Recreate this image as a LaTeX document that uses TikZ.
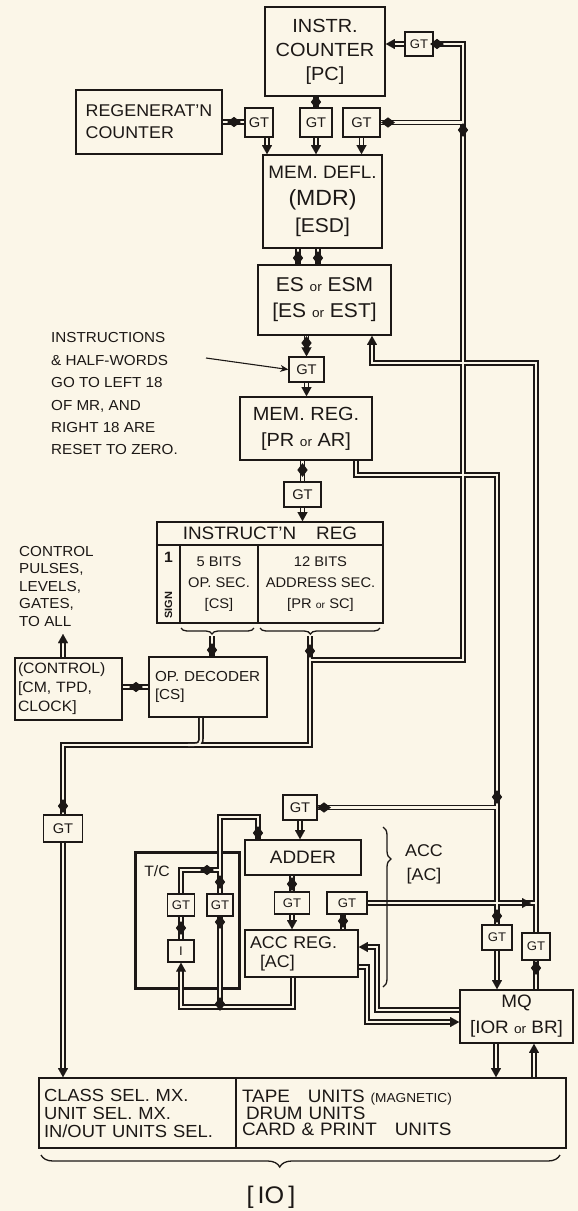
\documentclass[tikz,border=0pt]{standalone}
\usepackage{fontspec}
\setmainfont{Liberation Sans}[FakeStretch=1.05]
\usetikzlibrary{arrows.meta,shapes.geometric,decorations.pathreplacing,calc}
\pgfdeclarelayer{back}
\pgfdeclarelayer{buslayer}
\pgfsetlayers{back,buslayer,main}
\definecolor{paper}{RGB}{251,246,232}
\definecolor{ink}{RGB}{28,24,22}
\newcommand\fs[2]{\fontsize{#1}{#2}\selectfont}
\newcommand\orw{{\fs{13}{13}or}}
\newcommand\tipD[1]{\draw[tipst] ($(#1)+(0,-9)$) -- (#1);}
\newcommand\tipU[1]{\draw[tipst] ($(#1)+(0,9)$) -- (#1);}
\newcommand\tipL[1]{\draw[tipst] ($(#1)+(9,0)$) -- (#1);}
\newcommand\tipR[1]{\draw[tipst] ($(#1)+(-9,0)$) -- (#1);}
\newcommand\BusPaths{%
\draw[shorten >=5pt] (gtpc.west) -- (gtpc.west -| pc.east);
\draw (gtpc.east) -- (gtpc.east -| P) -- (P |- addrj) -- (addrj);
\draw (gt3.east) -- (gt3.east -| P);
\draw (regen.east) -- (regen.east -| gt1.west);
\draw (pc.south -| gt2) -- (gt2.north);
\draw[shorten >=5pt] (gt1.south -| cx267) -- (mdr.north -| cx267);
\draw[shorten >=5pt] (gt2.south) -- (gt2.south |- mdr.north);
\draw[shorten >=5pt] (gt3.south) -- (gt3.south |- mdr.north);
\draw (mdr.south -| cx298) -- (es.north -| cx298);
\draw (mdr.south -| cx318) -- (es.north -| cx318);
\draw[shorten >=5pt] (es.south -| gtes) -- (gtes.north);
\draw[shorten >=5pt] (gtes.south) -- (gtes.south |- mr.north);
\draw[shorten <=5pt] (es.south -| esj) -- (esj) -- (esj -| E) -- (E |- gtq2.north);
\draw (mr.south -| mrj) -- (mrj) -- (mrj -| M) -- (M |- gtq1.north);
\draw (mr.south -| gtmr) -- (gtmr.north);
\draw[shorten >=5pt] (gtmr.south) -- (gtmr.south |- irh.north);
\draw (opb) -- (opb |- opdec.north);
\draw (adb) -- (lowj) -- (lowj -| gtl) -- (gtl.north);
\draw (opdec.south -| cx201) -- (odj) .. controls (odc) .. (odk);
\draw[shorten >=5pt] (gtl.south) -- (gtl.south |- iol.north);
\draw[shorten >=5pt] (ctrl.north -| gtl) -- (ctrlup);
\draw (opdec.west) -- (opdec.west -| ctrl.east);
\draw (gtadd.east) -- (gtadd.east -| M);
\draw[shorten >=5pt] (gtadd.south) -- (gtadd.south |- adder.north);
\draw (gtc2.north) -- (tcj) -- (tck) -- (tck |- adder.north);
\draw (gtc1.north) -- (c1j) -- (c1k);
\draw (gta1.north) -- (gta1.north |- adder.south);
\draw[shorten >=5pt] (gta1.south) -- (gta1.south |- accreg.north);
\draw (gta2.south -| cx343) -- (accreg.north -| cx343);
\draw (gta2.east) -- (gta2.east -| E);
\draw (ibox.north) -- (gtc1.south);
\draw[shorten >=5pt] (accreg.south -| lp1) -- (lp1) -- (lp2) -- (ibox.south);
\draw (gtc2.south) -- (gtc2.south |- lp1);
\draw[shorten >=5pt] (q1 -| mq.west) -- (q1) -- (q2) -- (q2 -| accreg.east);
\draw[shorten >=5pt] (q3 -| accreg.east) -- (q3) -- (q4) -- (q4 -| mq.west);
\draw[shorten >=5pt] (gtq1.south) -- (gtq1.south |- mq.north);
\draw (gtq2.south) -- (gtq2.south |- mq.north);
\draw[shorten >=5pt] (mq.south -| cx496) -- (ior.north -| cx496);
\draw[shorten >=5pt] (ior.north -| cx534) -- (mq.south -| cx534);
}
\begin{document}
\begin{tikzpicture}[x=1pt,y=-1pt,
  box/.style={draw=ink, line width=1.7pt, fill=paper, inner sep=1pt, align=center, text=ink},
  gt/.style={box, line width=1.4pt, font=\fs{14}{14}},
  gts/.style={box, line width=1.4pt, font=\fs{12.5}{12.5}},
  dv/.style={diamond, fill=ink, inner sep=0pt, minimum width=10.5pt, minimum height=14pt},
  dh/.style={diamond, fill=ink, inner sep=0pt, minimum width=14pt, minimum height=10.5pt},
  tipst/.style={draw=ink, fill=ink, line width=0.01pt, -{Triangle[length=9pt,width=10pt]}},
  lbl/.style={text=ink, inner sep=0pt},
  brc/.style={draw=ink, line width=1.3pt, decorate},
]
\begin{pgfonlayer}{back}
\fill[paper] (0,0) rectangle (578,1211);
\node[draw=ink, line width=3pt, minimum width=104pt, minimum height=136pt, inner sep=0pt] (tc) at (187,920) {};
\end{pgfonlayer}
\useasboundingbox (0,0) rectangle (578,1211);

% helper coordinates
\coordinate (P) at (463,0); \coordinate (M) at (497,0); \coordinate (E) at (536,0);
\coordinate (addrj) at (310,660);
\coordinate (esj) at (372,363);
\coordinate (mrj) at (356,475);
\coordinate (opb) at (212,636);
\coordinate (adb) at (310,636);
\coordinate (lowj) at (310,745);
\coordinate (odj) at (201,735); \coordinate (odc) at (201,745); \coordinate (odk) at (188,745);
\coordinate (ctrlup) at (63,634);
\coordinate (tcj) at (220,817); \coordinate (tck) at (258,817);
\coordinate (c1j) at (181,870); \coordinate (c1k) at (220,870);
\coordinate (lp1) at (293,1007); \coordinate (lp2) at (181,1007);
\coordinate (q1) at (377,1010); \coordinate (q2) at (377,947);
\coordinate (q3) at (367,967); \coordinate (q4) at (367,1022);
\coordinate (cx267) at (267,0); \coordinate (cx298) at (298,0); \coordinate (cx318) at (318,0);
\coordinate (cx201) at (201,0); \coordinate (cx343) at (343,0); \coordinate (cx496) at (496,0);
\coordinate (cx534) at (534,0); \coordinate (cx531) at (531,0);
\coordinate (annA) at (206,358);

% boxes
\node[box, minimum width=120pt, minimum height=89pt, font=\fs{19}{24}] (pc) at (325,51.5) {INSTR.\\COUNTER\\{[PC]}};
\node[gts, minimum width=28pt, minimum height=24pt] (gtpc) at (419,44) {GT};
\node[box, minimum width=146pt, minimum height=64pt, font=\fs{17}{22}, align=left] (regen) at (149,122) {REGENERAT’N\\COUNTER};
\node[gt, minimum width=28pt, minimum height=29pt] (gt1) at (259,122.5) {GT};
\node[gt, minimum width=32pt, minimum height=29pt] (gt2) at (316,122.5) {GT};
\node[gt, minimum width=37pt, minimum height=29pt] (gt3) at (361.5,122.5) {GT};
\node[box, minimum width=119pt, minimum height=93pt, font=\fs{18}{27}] (mdr) at (322.5,201.5) {MEM. DEFL.\\{\fs{22}{27}(MDR)}\\{\fs{20}{27}[ESD]}};
\node[box, minimum width=133pt, minimum height=70pt, font=\fs{20}{26}] (es) at (324.5,300) {ES \orw{} ESM\\{[ES \orw{} EST]}};
\node[gt, minimum width=35pt, minimum height=25pt] (gtes) at (306.5,369.5) {GT};
\node[box, minimum width=132pt, minimum height=63pt, font=\fs{19}{26}] (mr) at (306,428.5) {MEM. REG.\\{[PR \orw{} AR]}};
\node[gt, minimum width=37pt, minimum height=25pt] (gtmr) at (302.5,494.5) {GT};
\node[box, minimum width=226pt, minimum height=23pt, font=\fs{18}{18}] (irh) at (270,533.5) {INSTRUCT’N\hspace{20pt}REG};
\node[box, minimum width=23pt, minimum height=78pt] (irs) at (168.5,584) {};
\node[box, minimum width=78pt, minimum height=78pt, font=\fs{14}{21}] (iro) at (219,584) {5 BITS\\OP. SEC.\\{[CS]}};
\node[box, minimum width=125pt, minimum height=78pt, font=\fs{14}{21}] (ira) at (320.5,584) {12 BITS\\ADDRESS SEC.\\{[PR {\fs{10}{10}or} SC]}};
\node[box, minimum width=118pt, minimum height=60pt, font=\fs{14.5}{18}, align=left, text width=106pt] (opdec) at (208,687) {\mbox{OP. DECODER}\\{[CS]}};
\node[box, minimum width=107pt, minimum height=62pt, font=\fs{15}{19}, align=left, text width=101pt] (ctrl) at (68.5,689) {\mbox{(CONTROL)}\\\mbox{[CM, TPD,}\\\mbox{CLOCK]}};
\node[gt, minimum width=39pt, minimum height=27pt] (gtl) at (63,828.5) {GT};
\node[gt, minimum width=34pt, minimum height=25pt] (gtadd) at (300,807.5) {GT};
\node[box, minimum width=116pt, minimum height=35pt, font=\fs{18}{18}] (adder) at (303,857.5) {ADDER};
\node[gts, minimum width=27pt, minimum height=22pt] (gtc1) at (181,905) {GT};
\node[gts, minimum width=26pt, minimum height=22pt] (gtc2) at (220,905) {GT};
\node[gts, minimum width=26pt, minimum height=22pt] (ibox) at (181,951) {I};
\node[gts, minimum width=35pt, minimum height=22pt] (gta1) at (292,903) {GT};
\node[gts, minimum width=40pt, minimum height=22pt] (gta2) at (347,903) {GT};
\node[box, minimum width=113pt, minimum height=47pt, font=\fs{17}{19}, align=left, text width=103pt] (accreg) at (301.5,953.5) {\mbox{ACC REG.}\\\hspace*{10pt}{[AC]}};
\node[gts, minimum width=30pt, minimum height=25pt] (gtq1) at (497,937.5) {GT};
\node[gts, minimum width=28pt, minimum height=27pt] (gtq2) at (536,946.5) {GT};
\node[box, minimum width=113pt, minimum height=53pt, font=\fs{18}{26}] (mq) at (516.5,1016.5) {MQ\\{[IOR \orw{} BR]}};
\node[box, minimum width=197pt, minimum height=70pt, font=\fs{17.5}{18}, align=left, text width=187pt] (iol) at (137.5,1113) {\mbox{CLASS SEL. MX.}\\\mbox{UNIT SEL. MX.}\\\mbox{IN/OUT UNITS SEL.}};
\node[box, minimum width=330pt, minimum height=70pt, font=\fs{18}{16.5}, align=left, text width=318pt] (ior) at (401,1113) {\mbox{TAPE\quad UNITS {\fs{13}{13}(MAGNETIC)}}\\\hspace*{4pt}\mbox{DRUM UNITS}\\\mbox{CARD \& PRINT\quad UNITS}};

% buses (double lines)
\begin{pgfonlayer}{buslayer}
\begin{scope}[color=ink, line width=5.6pt] \BusPaths \end{scope}
\begin{scope}[color=paper, line width=2.2pt] \BusPaths \end{scope}
\end{pgfonlayer}

% arrow tips
\tipL{pc.east |- gtpc.west}
\tipD{mdr.north -| cx267}
\tipD{gt2.south |- mdr.north}
\tipD{gt3.south |- mdr.north}
\tipD{gtes.north}
\tipD{gtes.south |- mr.north}
\tipU{es.south -| esj}
\tipD{gtmr.south |- irh.north}
\tipD{gtl.south |- iol.north}
\tipU{ctrlup}
\tipD{gtadd.south |- adder.north}
\tipD{gta1.south |- accreg.north}
\tipR{gta2.east -| cx531}
\tipU{ibox.south}
\tipL{q2 -| accreg.east}
\tipR{q4 -| mq.west}
\tipD{gtq1.south |- mq.north}
\tipD{ior.north -| cx496}
\tipU{mq.south -| cx534}

% bidirectional marks
\node[dh] at (437,44) {};
\node[dv] at (316,102) {};
\node[dh] at (234,122) {};
\node[dh] at (388,122.5) {};
\node[dv] at (463,130) {};
\node[dv] at (298,258) {};
\node[dv] at (318,258) {};
\node[dv] at (306.5,343) {};
\node[dv] at (302.5,470) {};
\node[dv] at (212,650) {};
\node[dv] at (310,651) {};
\node[dh] at (136,687) {};
\node[dv] at (63,806) {};
\node[dh] at (324,807.5) {};
\node[dv] at (497,797) {};
\node[dv] at (258,833) {};
\node[dv] at (220,882) {};
\node[dh] at (207,870) {};
\node[dv] at (292,884) {};
\node[dv] at (343,921) {};
\node[dv] at (181,928) {};
\node[dv] at (220,922) {};
\node[dv] at (220,1004) {};
\node[dv] at (497,916) {};
\node[dv] at (536,968) {};

% braces
\draw[brc, decoration={brace, amplitude=6pt, aspect=0.575}] (254,628) -- (181,628);
\draw[brc, decoration={brace, amplitude=6pt, aspect=0.58}] (380,628) -- (260,628);
\draw[brc, decoration={brace, amplitude=8pt, aspect=0.2}] (383,827) -- (383,987);
\draw[brc, decoration={brace, amplitude=12pt, aspect=0.54}] (560,1155) -- (41,1155);

% labels
\node[lbl, font=\bfseries\fs{15}{15}] (sig1) at (168.5,557) {1};
\node[lbl, font=\bfseries\fs{10.5}{10.5}, rotate=90] (sig2) at (168.5,605) {SIGN};
\node[lbl, font=\fs{15}{15}] (tclbl) at (157,871) {T/C};
\node[lbl, font=\fs{17}{24}, align=center] (acclbl) at (424,864) {ACC\\{[AC]}};
\node[lbl, font=\fs{24}{24}] (iolbl) at (271,1197) {[\,IO\,]};
\node[lbl, font=\fs{14.5}{17.5}, align=left, anchor=west] (ann1) at (19,586) {CONTROL\\PULSES,\\LEVELS,\\GATES,\\TO ALL};
\node[lbl, font=\fs{14.5}{22.4}, align=left, anchor=west] (ann2) at (51,394) {INSTRUCTIONS\\\& HALF-WORDS\\GO TO LEFT 18\\OF MR, AND\\RIGHT 18 ARE\\RESET TO ZERO.};
\draw[ink, line width=1.1pt, -{Stealth[length=8pt,width=7pt]}] (annA) -- (gtes.west);
\end{tikzpicture}
\end{document}
